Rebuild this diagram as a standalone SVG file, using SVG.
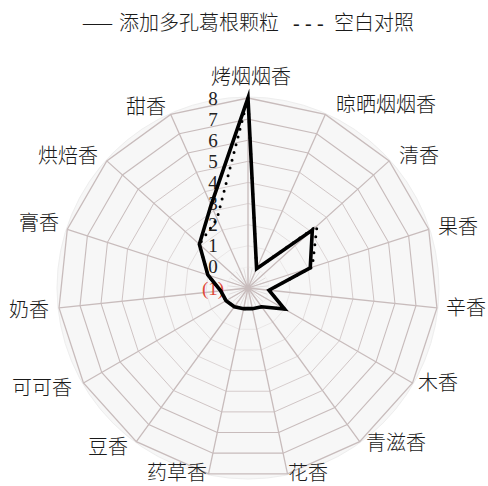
<svg xmlns="http://www.w3.org/2000/svg" xmlns:xlink="http://www.w3.org/1999/xlink" width="488" height="486" viewBox="0 0 488 486">
<style>
.cat{font-family:"Noto Sans CJK SC","Noto Sans CJK JP",sans-serif;font-size:20px;font-weight:300;fill:#1a1a1a;text-anchor:middle}
.num{font-family:"Liberation Serif","DejaVu Serif",serif;font-size:19px;fill:#222;text-anchor:middle}
.ring{fill:none;stroke:#c8bcbc;stroke-width:1.3;vector-effect:non-scaling-stroke}
.spoke{fill:none;stroke:#c8bcbc;stroke-width:1.3}
.solid{fill:none;stroke:#000;stroke-width:3.6;stroke-linejoin:miter;stroke-miterlimit:20}
.dot{fill:none;stroke:#000;stroke-width:3;stroke-linecap:round;stroke-dasharray:0 8}
</style>
<defs>
<polygon id="ring" points="0,-190 77.28,-173.57 141.2,-127.13 180.7,-58.71 188.96,19.86 164.55,95 111.68,153.71 39.5,185.85 -39.5,185.85 -111.68,153.71 -164.55,95 -188.96,19.86 -180.7,-58.71 -141.2,-127.13 -77.28,-173.57"/>
</defs>
<rect width="488" height="486" fill="#fff"/>
<g id="legend">
<text font-family="Noto Sans CJK SC, Noto Sans CJK JP, sans-serif" font-size="20" font-weight="300" fill="#1a1a1a" y="29.5"><tspan x="83" textLength="29" lengthAdjust="spacingAndGlyphs" font-family="Liberation Serif, serif">—</tspan><tspan x="119">添加多孔葛根颗粒</tspan><tspan x="293" font-family="Liberation Serif, serif" letter-spacing="5.3">---</tspan><tspan x="334">空白对照</tspan></text>
</g>
<g id="grid" transform="translate(248,288)">
<circle r="191" fill="#f7f7f7" stroke="#eeeeee" stroke-width="1"/>
<g stroke="#d4cccc" stroke-width="0.6">
<path d="M0,0L0,-20M0,0L4.2,-19.6M0,0L8.1,-18.3M0,0L11.8,-16.2M0,0L14.9,-13.4M0,0L17.3,-10M0,0L19,-6.2M0,0L19.9,-2.1M0,0L19.9,2.1M0,0L19,6.2M0,0L17.3,10M0,0L14.9,13.4M0,0L11.8,16.2M0,0L8.1,18.3M0,0L4.2,19.6M0,0L0,20M0,0L-4.2,19.6M0,0L-8.1,18.3M0,0L-11.8,16.2M0,0L-14.9,13.4M0,0L-17.3,10M0,0L-19,6.2M0,0L-19.9,2.1M0,0L-19.9,-2.1M0,0L-19,-6.2M0,0L-17.3,-10M0,0L-14.9,-13.4M0,0L-11.8,-16.2M0,0L-8.1,-18.3M0,0L-4.2,-19.6"/>
</g>
<use xlink:href="#ring" class="ring" transform="scale(0.11111)"/>
<use xlink:href="#ring" class="ring" transform="scale(0.22222)"/>
<use xlink:href="#ring" class="ring" transform="scale(0.33333)"/>
<use xlink:href="#ring" class="ring" transform="scale(0.44444)"/>
<use xlink:href="#ring" class="ring" transform="scale(0.55556)"/>
<use xlink:href="#ring" class="ring" transform="scale(0.66667)"/>
<use xlink:href="#ring" class="ring" transform="scale(0.77778)"/>
<use xlink:href="#ring" class="ring" transform="scale(0.88889)"/>
<use xlink:href="#ring" class="ring"/>
<path class="spoke" d="M0,0L0,-190M0,0L77.28,-173.57M0,0L141.2,-127.13M0,0L180.7,-58.71M0,0L188.96,19.86M0,0L164.55,95M0,0L111.68,153.71M0,0L39.5,185.85M0,0L-39.5,185.85M0,0L-111.68,153.71M0,0L-164.55,95M0,0L-188.96,19.86M0,0L-180.7,-58.71M0,0L-141.2,-127.13M0,0L-77.28,-173.57"/>
</g>
<g id="axis-values">
<text class="num" x="213" y="104.5">8</text>
<text class="num" x="213" y="125.6">7</text>
<text class="num" x="213" y="146.7">6</text>
<text class="num" x="213" y="167.8">5</text>
<text class="num" x="213" y="188.9">4</text>
<text class="num" x="213" y="210.1">3</text>
<text class="num" x="213" y="231.2">2</text>
<text class="num" x="213" y="252.3">1</text>
<text class="num" x="213" y="273.4">0</text>
<text class="num" x="213" y="294.5" style="fill:#e04a3a">(1)</text>
</g>
<g id="series">
<polygon id="series-added" class="solid" points="248,98 256.59,268.71 312.33,230.08 310.24,267.78 269,290.21 284.57,309.11 261.65,306.79 252.39,308.65 243.61,308.65 234.35,306.79 226.06,300.67 220.71,290.87 207.85,274.95 199.37,244.21 211.08,205.07"/>
<polygon id="series-blank" class="dot" points="248,98 256.59,268.71 317.03,225.84 312.25,267.12 269,290.21 284.57,309.11 261.65,306.79 252.39,308.65 243.61,308.65 234.35,306.79 226.06,300.67 220.71,290.87 207.85,274.95 199.37,244.21 217.09,218.57"/>
</g>
<g id="labels">
<g id="n0"><text class="cat" x="251" y="84">烤烟烟香</text></g>
<g id="n1"><text class="cat" x="386" y="111.5">晾晒烟烟香</text></g>
<g id="n2"><text class="cat" x="419" y="162.5">清香</text></g>
<g id="n3"><text class="cat" x="458" y="233.5">果香</text></g>
<g id="n4"><text class="cat" x="466" y="314.5">辛香</text></g>
<g id="n5"><text class="cat" x="438" y="389.5">木香</text></g>
<g id="n6"><text class="cat" x="396" y="449.5">青滋香</text></g>
<g id="n7"><text class="cat" x="308" y="479.5">花香</text></g>
<g id="n8"><text class="cat" x="177" y="479.5">药草香</text></g>
<g id="n9"><text class="cat" x="108" y="453.5">豆香</text></g>
<g id="n10"><text class="cat" x="42" y="394.5">可可香</text></g>
<g id="n11"><text class="cat" x="29" y="316.5">奶香</text></g>
<g id="n12"><text class="cat" x="39" y="229.5">膏香</text></g>
<g id="n13"><text class="cat" x="68" y="162.5">烘焙香</text></g>
<g id="n14"><text class="cat" x="146" y="113.5">甜香</text></g>
</g>
</svg>
